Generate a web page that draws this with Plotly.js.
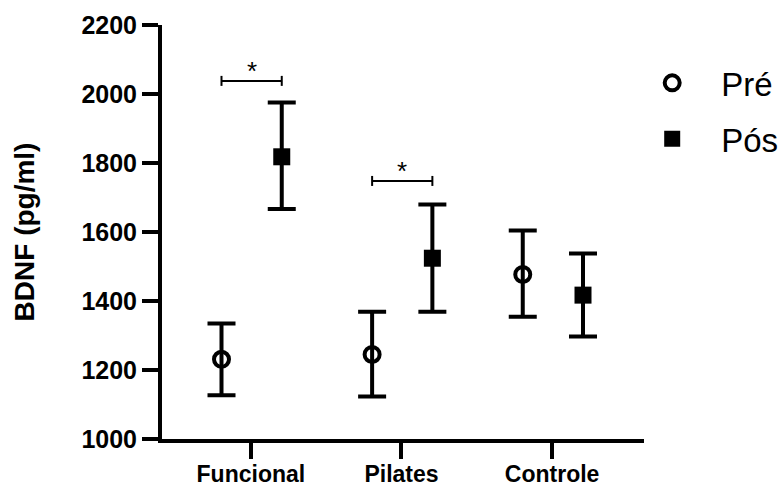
<!DOCTYPE html>
<html>
<head>
<meta charset="utf-8">
<script src="https://cdn.plot.ly/plotly-3.0.1.min.js"></script>
<style>html,body{margin:0;padding:0;background:#fff;}#chart{width:779px;height:486px;}</style>
</head>
<body>
<div id="chart"></div>
<script>
// ---- data ----
const categories = ["Funcional", "Pilates", "Controle"];
const preMean  = [1231, 1245, 1477];
const preUpper = [1335, 1369, 1604];
const preLower = [1127, 1123, 1354];
const posMean  = [1818, 1524, 1417];
const posUpper = [1975, 1680, 1538];
const posLower = [1667, 1369, 1297];
const yTicks = [1000, 1200, 1400, 1600, 1800, 2000, 2200];
// significance brackets: category index and height (pg/ml)
const sigCategory = [0, 1];
const sigHeight = [2038, 1748];
const sigLabel = ["*", "*"];

// ---- layout constants ----
const catPos = categories.map((c, i) => i + 1);
const preOff = -0.195, posOff = 0.205;
const FONT = "Liberation Sans, Arial, Helvetica, sans-serif";

const preX = catPos.map(x => x + preOff);
const posX = catPos.map(x => x + posOff);

const tracePre = {
  type: "scatter", mode: "markers", name: "Pré", legendgroup: "a",
  x: preX, y: preMean,
  marker: {symbol: "circle-open", size: 15, color: "#000", line: {width: 4, color: "#000"}},
  error_y: {type: "data", symmetric: false,
    array: preUpper.map((u, i) => u - preMean[i]),
    arrayminus: preMean.map((m, i) => m - preLower[i]),
    color: "#000", thickness: 4, width: 14},
  hoverinfo: "y"
};
const tracePos = {
  type: "scatter", mode: "markers", name: "Pós", legendgroup: "b",
  x: posX, y: posMean,
  marker: {symbol: "square", size: 17, color: "#000", line: {width: 0}},
  error_y: {type: "data", symmetric: false,
    array: posUpper.map((u, i) => u - posMean[i]),
    arrayminus: posMean.map((m, i) => m - posLower[i]),
    color: "#000", thickness: 4, width: 14},
  hoverinfo: "y"
};

const shapes = [];
const annotations = [];
sigCategory.forEach((ci, k) => {
  const x0 = preX[ci], x1 = posX[ci], yv = sigHeight[k];
  shapes.push({type: "line", xref: "x", yref: "y", x0: x0, x1: x1, y0: yv, y1: yv,
    line: {color: "#000", width: 2}});
  [x0, x1].forEach(xx => shapes.push({type: "line", xref: "x", yref: "y",
    ysizemode: "pixel", yanchor: yv, x0: xx, x1: xx, y0: -5, y1: 5,
    line: {color: "#000", width: 2}}));
  annotations.push({x: (x0 + x1) / 2, y: yv, xref: "x", yref: "y", text: sigLabel[k],
    showarrow: false, yanchor: "bottom", yshift: -7,
    font: {family: FONT, size: 26, color: "#000"}});
});

const layout = {
  width: 779, height: 486,
  margin: {l: 162, r: 135, t: 25, b: 47, autoexpand: false},
  paper_bgcolor: "#fff", plot_bgcolor: "#fff",
  showlegend: true,
  legend: {xref: "container", yref: "container", x: 0.80, xanchor: "left", y: 0.887, yanchor: "top",
    font: {family: FONT, size: 33, color: "#000"},
    itemwidth: 88, traceorder: "grouped", tracegroupgap: 10,
    bgcolor: "rgba(0,0,0,0)"},
  xaxis: {range: [0.41, 3.61], tickvals: catPos, ticktext: categories,
    showgrid: false, zeroline: false, showline: true, linecolor: "#000", linewidth: 4,
    ticks: "outside", ticklen: 16, tickwidth: 4, tickcolor: "#000", ticklabelstandoff: -5,
    tickfont: {family: FONT, size: 23, color: "#000", weight: "bold"}},
  yaxis: {range: [1000, 2200], tickvals: yTicks,
    showgrid: false, zeroline: false, showline: true, linecolor: "#000", linewidth: 4,
    ticks: "outside", ticklen: 16, tickwidth: 4, tickcolor: "#000",
    tickfont: {family: FONT, size: 25, color: "#000", weight: "bold"},
    title: {text: "BDNF (pg/ml)", standoff: 40,
      font: {family: FONT, size: 28, color: "#000", weight: "bold"}}},
  shapes: shapes,
  annotations: annotations
};

Plotly.newPlot("chart", [tracePre, tracePos], layout, {displayModeBar: false, staticPlot: true});
</script>
</body>
</html>
